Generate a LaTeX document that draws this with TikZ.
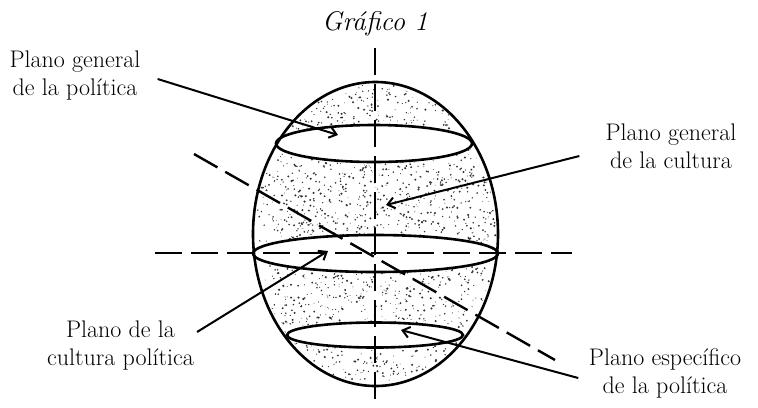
\documentclass[tikz,border=0pt]{standalone}
\usepackage{fontspec}
\usepackage{tikz}
\usetikzlibrary{arrows.meta,positioning,calc}

\begin{document}
\begin{tikzpicture}[
  x=1bp, y=-1bp,
  planotext/.style={align=center,inner sep=0pt,font=\fontsize{24bp}{28bp}\selectfont},
  ring/.style={line width=2.6bp},
  axis/.style={line width=2.4bp,dash pattern=on 27bp off 9bp},
  arrow/.style={line width=2bp,-{Straight Barb[length=7bp,width=11bp]}}
]
  \useasboundingbox (0,0) rectangle (758,407);

  \coordinate (egg) at (375.5,234);
  \coordinate (ringtop) at (374,143.5);
  \coordinate (ringmid) at (375.5,253.5);
  \coordinate (ringbot) at (375,335);

  % speckled surface
  \pgfmathsetseed{11}
  \foreach \i in {1,...,1800}{
    \pgfmathsetmacro\ang{360*rnd}
    \pgfmathsetmacro\rad{sqrt(rnd)}
    \pgfmathsetmacro\dotr{0.35+0.85*rnd}
    \fill[black!80] ($(egg)+({120*\rad*cos(\ang)},{150*\rad*sin(\ang)})$) circle (\dotr bp);
  }
  \fill[white] (ringtop) ellipse [x radius=98,y radius=18.5];
  \fill[white] (ringmid) ellipse [x radius=122.5,y radius=18.5];
  \fill[white] (ringbot) ellipse [x radius=88,y radius=12.5];

  \draw[ring] (egg) ellipse [x radius=122.5,y radius=152];
  \draw[ring] (ringtop) ellipse [x radius=98,y radius=18.5];
  \draw[ring] (ringmid) ellipse [x radius=122.5,y radius=18.5];
  \draw[ring] (ringbot) ellipse [x radius=88,y radius=12.5];

  \node[planotext,font=\fontsize{27bp}{28bp}\selectfont\itshape] (title) at (375,24) {Gráfico 1};
  \node[planotext] (polgen) at (75,75.5) {Plano general\\de la política};
  \node[planotext] (culgen) at (671,146.5) {Plano general\\de la cultura};
  \node[planotext] (culpol) at (120.5,345.5) {Plano de la\\cultura política};
  \node[planotext] (polesp) at (665,373) {Plano específico\\de la política};

  \coordinate (vtop) at (375,48);
  \coordinate (vbot) at (375,407);
  \coordinate (hleft) at (155,253);
  \coordinate (hright) at (572,253);
  \coordinate (dtop) at (194,154);
  \coordinate (dbot) at (555,360);

  \draw[axis] (vtop) -- (vbot);
  \draw[axis] (hleft) -- (hright);
  \draw[axis] (dtop) -- (dbot);

  \coordinate (tippolgen) at (338,135);
  \coordinate (tipculgen) at (386,205);
  \coordinate (tipculpol) at (328,251);
  \coordinate (tippolesp) at (401,330);

  \draw[arrow] ([shift={(17,3.5)}]polgen.east) -- (tippolgen);
  \draw[arrow] ([shift={(-26,9.5)}]culgen.west) -- (tipculgen);
  \draw[arrow] ([shift={(3,-13.5)}]culpol.east) -- (tipculpol);
  \draw[arrow] ([shift={(-10.5,5)}]polesp.west) -- (tippolesp);
\end{tikzpicture}
\end{document}
